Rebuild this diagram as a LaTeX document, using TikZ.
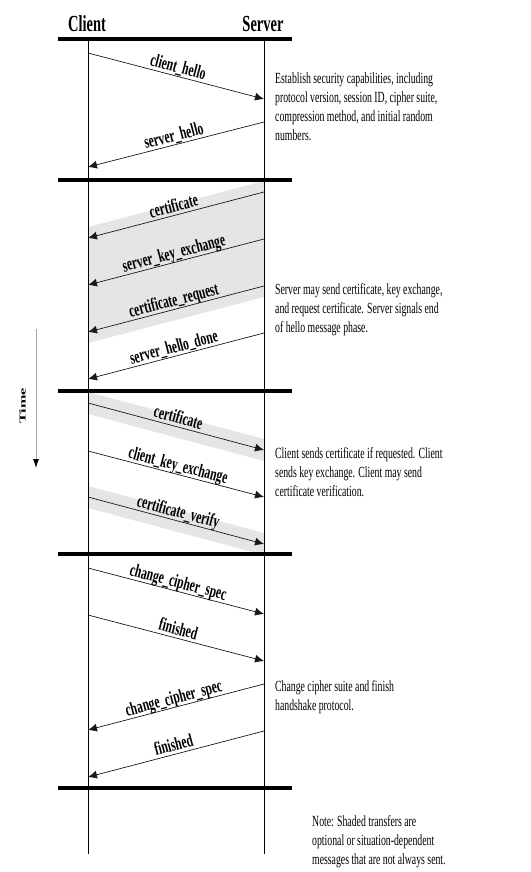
\documentclass[tikz,border=0pt]{standalone}
\usepackage{fontspec}
\setmainfont{Liberation Serif}[FakeStretch=0.63]
\newfontfamily\timefont{Liberation Serif}[FakeStretch=1.8]
\usepackage{tikz}
\usetikzlibrary{arrows.meta}
\tikzstyle{msg} = [draw=black!90, line width=0.7pt, -{Latex[length=9pt,width=8pt]}]
\tikzstyle{lbl} = [midway, sloped, above, inner sep=3pt, text depth=0pt, font=\bfseries\fontsize{18.4}{20}\selectfont]
\tikzstyle{head} = [anchor=base, inner sep=0pt, font=\bfseries\fontsize{23}{23}\selectfont]
\tikzstyle{desc} = [anchor=north west, align=left, inner sep=0pt, font=\fontsize{15.5}{19}\selectfont]
\tikzstyle{bar} = [line width=4pt]
\tikzstyle{life} = [line width=0.6pt]
\tikzstyle{band} = [fill=gray!20]

\begin{document}
\begin{tikzpicture}[x=1pt, y=-1pt]
	\useasboundingbox (0,0) rectangle (530,872);
	% lifelines
	\coordinate (cltop) at (88,39);
	\coordinate (clbot) at (88,854);
	\coordinate (svtop) at (264,39);
	\coordinate (svbot) at (264,854);
	% message ends on the lifelines
	\coordinate (c1) at (88,53);    \coordinate (s1) at (264,99);
	\coordinate (s2) at (264,122);  \coordinate (c2) at (88,167);
	\coordinate (s3) at (264,192);  \coordinate (c3) at (88,238);
	\coordinate (s4) at (264,239);  \coordinate (c4) at (88,285);
	\coordinate (s5) at (264,286);  \coordinate (c5) at (88,332);
	\coordinate (s6) at (264,333);  \coordinate (c6) at (88,379);
	\coordinate (c7) at (88,403);   \coordinate (s7) at (264,450);
	\coordinate (c8) at (88,451);   \coordinate (s8) at (264,497);
	\coordinate (c9) at (88,497);   \coordinate (s9) at (264,544);
	\coordinate (c10) at (88,568);  \coordinate (s10) at (264,614);
	\coordinate (c11) at (88,615);  \coordinate (s11) at (264,661);
	\coordinate (s12) at (264,684); \coordinate (c12) at (88,730);
	\coordinate (s13) at (264,731); \coordinate (c13) at (88,777);
	% shaded transfers
	\fill[band] ([yshift=11pt]s3) -- ([yshift=11pt]c3) -- ([yshift=-11pt]c5) -- ([yshift=-11pt]s5) -- cycle;
	\fill[band] ([yshift=11pt]c7) -- ([yshift=11pt]s7) -- ([yshift=-11pt]s7) -- ([yshift=-11pt]c7) -- cycle;
	\fill[band] ([yshift=11pt]c9) -- ([yshift=11pt]s9) -- ([yshift=-11pt]s9) -- ([yshift=-11pt]c9) -- cycle;
	% headers, lifelines and phase bars
	\node[head] (client) at (87,32) {Client};
	\node[head] (server) at (263,32) {Server};
	\draw[life] (cltop) -- (clbot);
	\draw[life] (svtop) -- (svbot);
	\draw[bar] (58,39) -- (292,39);
	\draw[bar] (58,180) -- (292,180);
	\draw[bar] (58,391) -- (292,391);
	\draw[bar] (58,554) -- (292,554);
	\draw[bar] (58,788) -- (292,788);
	% messages
	\draw[msg] (c1) -- node[lbl] {client\_hello} (s1);
	\draw[msg] (s2) -- node[lbl] {server\_hello} (c2);
	\draw[msg] (s3) -- node[lbl] {certificate} (c3);
	\draw[msg] (s4) -- node[lbl] {server\_key\_exchange} (c4);
	\draw[msg] (s5) -- node[lbl] {certificate\_request} (c5);
	\draw[msg] (s6) -- node[lbl] {server\_hello\_done} (c6);
	\draw[msg] (c7) -- node[lbl] {certificate} (s7);
	\draw[msg] (c8) -- node[lbl] {client\_key\_exchange} (s8);
	\draw[msg] (c9) -- node[lbl] {certificate\_verify} (s9);
	\draw[msg] (c10) -- node[lbl] {change\_cipher\_spec} (s10);
	\draw[msg] (c11) -- node[lbl] {finished} (s11);
	\draw[msg] (s12) -- node[lbl] {change\_cipher\_spec} (c12);
	\draw[msg] (s13) -- node[lbl] {finished} (c13);
	% phase descriptions
	\node[desc] (hello) at (275,72.5) {Establish security capabilities, including\\protocol version, session ID, cipher suite,\\compression method, and initial random\\numbers.};
	\node[desc] (srvcert) at (275,283.5) {Server may send certificate, key exchange,\\and request certificate. Server signals end\\of hello message phase.};
	\node[desc] (clicert) at (275,447.5) {Client sends certificate if requested. Client\\sends key exchange. Client may send\\certificate verification.};
	\node[desc] (finish) at (275,680.5) {Change cipher suite and finish\\handshake protocol.};
	\node[desc] (note) at (312,815.5) {Note: Shaded transfers are\\optional or situation-dependent\\messages that are not always sent.};
	% time axis
	\coordinate (tmtop) at (36,329);
	\coordinate (tmbot) at (36,468);
	\draw[gray!70, line width=0.8pt, -{Latex[length=9pt,width=6pt,color=black]}] (tmtop) -- (tmbot);
	\node[rotate=90, inner sep=0pt, font=\timefont\bfseries\fontsize{9}{9}\selectfont] (time) at (22.5,406) {Time};
\end{tikzpicture}
\end{document}
